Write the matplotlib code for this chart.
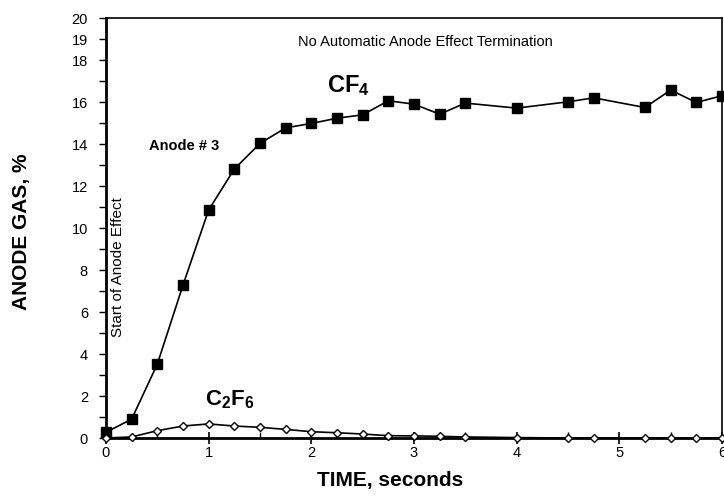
import matplotlib.pyplot as plt

plt.rcParams['font.family'] = ['Liberation Sans', 'DejaVu Sans']
plt.rcParams['mathtext.fontset'] = 'custom'
plt.rcParams['mathtext.rm'] = 'Liberation Sans'
plt.rcParams['mathtext.bf'] = 'Liberation Sans:bold'

# tiempos de muestreo (s)
tiempo = [0, 0.25, 0.5, 0.75, 1.0, 1.25, 1.5, 1.75, 2.0, 2.25, 2.5, 2.75,
          3.0, 3.25, 3.5, 4.0, 4.5, 4.75, 5.25, 5.5, 5.75, 6.0]
cf4 = [0.27, 0.9, 3.52, 7.28, 10.86, 12.81, 14.03, 14.77, 14.98, 15.23, 15.39, 16.06,
       15.9, 15.42, 15.95, 15.71, 16.01, 16.2, 15.74, 16.57, 15.98, 16.3]
c2f6 = [0.0, 0.05, 0.35, 0.57, 0.67, 0.57, 0.51, 0.41, 0.3, 0.25, 0.19, 0.11,
        0.1, 0.08, 0.05, 0.02, 0.0, 0.0, 0.0, 0.0, 0.0, 0.0]

y_ticks = list(range(0, 21))
y_labels = [str(v) if (v % 2 == 0 and v <= 18) or v >= 19 else '' for v in y_ticks]
x_ticks = [0, 1, 2, 3, 4, 5, 6]

fig = plt.figure(figsize=(7.24, 4.97), dpi=100)
ax = fig.add_axes([0.1464, 0.1187, 0.8508, 0.845])

ax.plot(tiempo, cf4, '-', color='black', lw=1.2, marker='s', ms=6.5, mfc='black', clip_on=False, zorder=3)
ax.plot(tiempo, c2f6, '-', color='black', lw=1.2, marker='D', ms=4, mfc='white', mew=1.0, clip_on=False, zorder=3)

ax.set_xlim(0, 6)
ax.set_ylim(0, 20)
ax.set_yticks(y_ticks)
ax.set_yticklabels(y_labels)
ax.set_xticks(x_ticks)
ax.set_xticks([0.5, 1.5, 2.5, 3.5, 4.5, 5.5], minor=True)
ax.tick_params(axis='y', direction='out', length=5, width=1, labelsize=10.5, pad=8)
ax.tick_params(axis='x', which='major', direction='inout', length=8, width=1.2, labelsize=10.5, pad=2)
ax.tick_params(axis='x', which='minor', direction='in', length=4, width=1)

ax.spines['left'].set_linewidth(2)
ax.spines['bottom'].set_linewidth(2)
ax.spines['top'].set_linewidth(1.2)
ax.spines['right'].set_linewidth(1.2)

ax.set_xlabel('TIME, seconds', fontsize=15, fontweight='bold')
ax.xaxis.set_label_coords(0.462, -0.10, transform=ax.transAxes)
ax.xaxis.label.set_va('center')
ax.set_ylabel('ANODE GAS, %', fontsize=15, fontweight='bold')
ax.yaxis.set_label_coords(-0.137, 0.49, transform=ax.transAxes)
ax.yaxis.label.set_va('center')

ax.text(1.87, 18.86, 'No Automatic Anode Effect Termination', fontsize=10.5, va='center')
ax.text(2.15, 16.45, r'$\mathbf{CF_4}$', fontsize=17)
ax.text(0.42, 13.9, 'Anode # 3', fontsize=10.5, fontweight='bold', va='center')
ax.text(0.12, 8.14, 'Start of Anode Effect', fontsize=11, rotation=90, va='center', ha='center')
ax.text(0.96, 1.55, r'$\mathbf{C_2F_6}$', fontsize=16)

plt.savefig('out.png', dpi=100)
